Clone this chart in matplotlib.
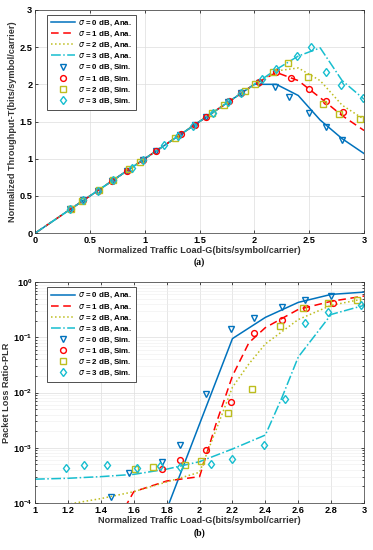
import matplotlib
matplotlib.use("Agg")
import matplotlib.pyplot as plt
import numpy as np

plt.rcParams["font.family"] = ["Liberation Sans", "DejaVu Sans"]
plt.rcParams["mathtext.fontset"] = "dejavusans"

# ---- (a) throughput ----
ana_g0 = [0.0, 2.0, 2.2, 2.4, 2.6, 2.8, 3.0]
ana_t0 = [0.0, 2.0, 2.0, 1.85, 1.52, 1.27, 1.07]
ana_g1 = [0.0, 2.0, 2.2, 2.4, 2.6, 2.8, 3.0]
ana_t1 = [0.0, 2.0, 2.16, 2.05, 1.82, 1.58, 1.38]
ana_g2 = [0.0, 2.0, 2.2, 2.4, 2.6, 2.8, 3.0]
ana_t2 = [0.0, 2.0, 2.18, 2.22, 2.05, 1.72, 1.53]
ana_g3 = [0.0, 2.0, 2.2, 2.4, 2.6, 2.8, 3.0]
ana_t3 = [0.0, 2.0, 2.2, 2.38, 2.49, 2.05, 1.8]

sim_g0 = [0.32, 0.44, 0.57, 0.70, 0.84, 0.98, 1.10, 1.32, 1.46, 1.56, 1.76, 1.88, 2.04, 2.19, 2.32, 2.50, 2.65, 2.80]
sim_t0 = [0.32, 0.44, 0.57, 0.70, 0.84, 0.98, 1.10, 1.32, 1.46, 1.56, 1.76, 1.88, 2.02, 1.96, 1.83, 1.62, 1.43, 1.25]
sim_g1 = [0.33, 0.44, 0.57, 0.70, 0.84, 0.98, 1.10, 1.33, 1.46, 1.56, 1.77, 1.88, 2.04, 2.20, 2.33, 2.50, 2.65, 2.81]
sim_t1 = [0.33, 0.44, 0.57, 0.70, 0.84, 0.98, 1.10, 1.33, 1.46, 1.56, 1.77, 1.88, 2.03, 2.17, 2.09, 1.94, 1.77, 1.63]
sim_g2 = [0.33, 0.43, 0.58, 0.71, 0.86, 0.96, 1.28, 1.61, 1.72, 1.91, 2.01, 2.17, 2.31, 2.49, 2.63, 2.77, 2.96]
sim_t2 = [0.33, 0.43, 0.58, 0.71, 0.86, 0.96, 1.28, 1.61, 1.72, 1.91, 2.01, 2.17, 2.28, 2.10, 1.74, 1.60, 1.53]
sim_g3 = [0.32, 0.44, 0.57, 0.71, 0.88, 0.98, 1.18, 1.30, 1.44, 1.62, 1.76, 1.88, 2.07, 2.20, 2.39, 2.52, 2.65, 2.79, 2.99]
sim_t3 = [0.32, 0.44, 0.57, 0.71, 0.88, 0.98, 1.18, 1.30, 1.44, 1.62, 1.76, 1.88, 2.07, 2.21, 2.38, 2.50, 2.17, 1.99, 1.81]

# ---- (b) packet loss ratio ----
plr_g0 = [1.6, 1.8, 2.0, 2.2, 2.4, 2.6, 2.8, 3.0]
plr_a0 = [1e-6, 7.6e-5, 2.7e-3, 0.095, 0.23, 0.43, 0.6, 0.66]
plr_g1 = [1.4, 1.6, 1.8, 2.0, 2.1, 2.2, 2.3, 2.4, 2.6, 2.8, 3.0]
plr_a1 = [1.4e-5, 1.6e-4, 2.5e-4, 3.0e-4, 2.7e-3, 0.02, 0.08, 0.15, 0.32, 0.45, 0.56]
plr_g2 = [1.0, 1.2, 1.4, 1.6, 1.8, 2.0, 2.1, 2.2, 2.3, 2.4, 2.6, 2.8, 3.0]
plr_a2 = [7e-5, 9.5e-5, 1.2e-4, 1.6e-4, 2.4e-4, 3.6e-4, 2.1e-3, 0.0125, 0.033, 0.076, 0.21, 0.38, 0.5]
plr_g3 = [1.0, 1.2, 1.4, 1.6, 1.8, 2.0, 2.2, 2.4, 2.5, 2.6, 2.8, 3.0]
plr_a3 = [2.7e-4, 2.8e-4, 3.0e-4, 3.3e-4, 4.1e-4, 5.6e-4, 9.5e-4, 1.7e-3, 8e-3, 0.044, 0.26, 0.38]

plr_sg0 = [1.46, 1.57, 1.77, 1.88, 2.04, 2.19, 2.33, 2.50, 2.64, 2.80]
plr_s0 = [1.26e-4, 3.5e-4, 5.5e-4, 1.1e-3, 9.5e-3, 0.14, 0.22, 0.35, 0.47, 0.57]
plr_sg1 = [1.77, 1.88, 2.04, 2.19, 2.33, 2.50, 2.65, 2.81]
plr_s1 = [4.1e-4, 6e-4, 9.3e-4, 6.7e-3, 0.12, 0.21, 0.34, 0.42]
plr_sg2 = [1.61, 1.72, 1.91, 2.01, 2.17, 2.32, 2.49, 2.63, 2.78, 2.96]
plr_s2 = [4.2e-4, 4.4e-4, 4.9e-4, 5.7e-4, 4.2e-3, 0.0117, 0.16, 0.34, 0.42, 0.48]
plr_sg3 = [1.19, 1.30, 1.44, 1.62, 1.76, 1.88, 2.07, 2.20, 2.39, 2.52, 2.64, 2.78, 2.98]
plr_s3 = [4.3e-4, 4.8e-4, 4.8e-4, 4.3e-4, 4.6e-4, 4.4e-4, 5.1e-4, 6.3e-4, 1.1e-3, 7.8e-3, 0.18, 0.29, 0.39]

colors = ["#0072BD", "#FF0000", "#BDBD1E", "#17BECF"]
styles = ["-", (0, (5, 3)), ":", "-."]
markers = ["v", "o", "s", "d"]
msizes = [4.2, 4.2, 3.8, 4.4]
sigmas = [0, 1, 2, 3]

fig = plt.figure(figsize=(3.73, 5.5), dpi=100)
ax1 = fig.add_axes([0.094, 0.576, 0.882, 0.406])
ax2 = fig.add_axes([0.094, 0.0855, 0.882, 0.4015])

fs = 6.6


def style_axes(ax):
    ax.tick_params(direction="in", which="both", top=True, right=True, labelsize=fs, length=2.5, width=0.5, pad=2)
    ax.tick_params(which="minor", length=1.5)
    for lab in ax.get_xticklabels() + ax.get_yticklabels():
        lab.set_fontweight("bold")
    for sp in ax.spines.values():
        sp.set_linewidth(0.5)
        sp.set_color("#333333")


def draw_legend(ax):
    leg = ax.legend(loc="upper left", fontsize=5.7, handlelength=3.0, labelspacing=0.22,
                    borderpad=0.5, handletextpad=0.4, fancybox=False, edgecolor="#333333",
                    bbox_to_anchor=(0.025, 0.995), framealpha=1)
    leg.get_frame().set_linewidth(0.6)
    for t in leg.get_texts():
        t.set_fontweight("bold")


# (a)
ana_sets = [(ana_g0, ana_t0), (ana_g1, ana_t1), (ana_g2, ana_t2), (ana_g3, ana_t3)]
sim_sets = [(sim_g0, sim_t0), (sim_g1, sim_t1), (sim_g2, sim_t2), (sim_g3, sim_t3)]
for (g, t), c, ls, s in zip(ana_sets, colors, styles, sigmas):
    ax1.plot(g, t, color=c, linestyle=ls, lw=1.1, label=rf"$\sigma$ = {s} dB, Ana.")
for (g, t), c, m, ms, s in zip(sim_sets, colors, markers, msizes, sigmas):
    ax1.plot(g, t, linestyle="none", marker=m, mfc="none", mec=c, mew=1.0,
             ms=ms, label=rf"$\sigma$ = {s} dB, Sim.")
ax1.set_xlim(0, 3)
ax1.set_ylim(0, 3)
ax1.set_xticks([0, 0.5, 1, 1.5, 2, 2.5, 3])
ax1.set_xticklabels(["0", "0.5", "1", "1.5", "2", "2.5", "3"])
ax1.set_yticks([0, 0.5, 1, 1.5, 2, 2.5, 3])
ax1.set_yticklabels(["0", "0.5", "1", "1.5", "2", "2.5", "3"])
ax1.grid(True, color="#dddddd", lw=0.5)
ax1.set_axisbelow(True)
ax1.set_xlabel("Normalized Traffic Load-G(bits/symbol/carrier)", fontsize=fs, fontweight="bold", labelpad=1, color="#333333")
ax1.set_ylabel("Normalized Throughput-T(bits/symbol/carrier)", fontsize=fs, fontweight="bold", labelpad=2, color="#333333")
style_axes(ax1)
draw_legend(ax1)

# (b)
ana_sets_b = [(plr_g0, plr_a0), (plr_g1, plr_a1), (plr_g2, plr_a2), (plr_g3, plr_a3)]
sim_sets_b = [(plr_sg0, plr_s0), (plr_sg1, plr_s1), (plr_sg2, plr_s2), (plr_sg3, plr_s3)]
for (g, p), c, ls, s in zip(ana_sets_b, colors, styles, sigmas):
    ax2.plot(g, p, color=c, linestyle=ls, lw=1.1, label=rf"$\sigma$ = {s} dB, Ana.")
for (g, p), c, m, ms, s in zip(sim_sets_b, colors, markers, msizes, sigmas):
    ax2.plot(g, p, linestyle="none", marker=m, mfc="none", mec=c, mew=1.0,
             ms=ms, label=rf"$\sigma$ = {s} dB, Sim.")
ax2.set_yscale("log")
ax2.set_xlim(1, 3)
ax2.set_ylim(1e-4, 1)
ax2.set_xticks(np.round(np.arange(1, 3.01, 0.2), 1))
ax2.set_xticklabels(["1", "1.2", "1.4", "1.6", "1.8", "2", "2.2", "2.4", "2.6", "2.8", "3"])
ax2.grid(True, which="major", color="#dddddd", lw=0.5)
ax2.grid(True, which="minor", axis="y", color="#eeeeee", lw=0.4)
ax2.set_axisbelow(True)
ax2.set_xlabel("Normalized Traffic Load-G(bits/symbol/carrier)", fontsize=fs, fontweight="bold", labelpad=1, color="#333333")
ax2.set_ylabel("Packet Loss Ratio-PLR", fontsize=fs, fontweight="bold", labelpad=1, color="#333333")
style_axes(ax2)
draw_legend(ax2)

fig.text(0.5 * (0.094 + 0.976), 1 - 262 / 550, "(a)", ha="center", va="center",
         fontsize=7, fontweight="bold", family="Liberation Serif")
fig.text(0.5 * (0.094 + 0.976), 1 - 533 / 550, "(b)", ha="center", va="center",
         fontsize=7, fontweight="bold", family="Liberation Serif")

fig.savefig("out.png", dpi=100)
